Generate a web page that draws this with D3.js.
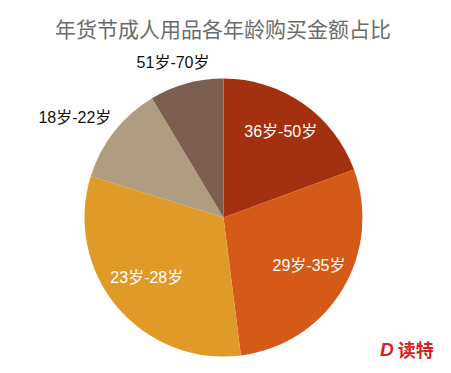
<!DOCTYPE html>
<html>
<head>
<meta charset="utf-8">
<script src="https://cdn.jsdelivr.net/npm/d3@7"></script>
<style>
  body { margin: 0; background: #fff; }
  svg { display: block; }
</style>
</head>
<body>
<svg></svg>
<script>
// data (percent of spend)
const ages = ['36岁-50岁', '29岁-35岁', '23岁-28岁', '18岁-22岁', '51岁-70岁']
const shares = [19.4, 28.6, 31.8, 11.6, 8.6]
const colors = ['#a3310f', '#d55a17', '#e09a28', '#b09c7e', '#7b5e50']
const title = '年货节成人用品各年龄购买金额占比'

let width = 451
let height = 373
let svg = d3.select('svg')
    .attr('width', width)
    .attr('height', height)

let cx = 223.5
let cy = 217.5
let radius = 139

let font = '"Liberation Sans", Arial, "Noto Sans CJK SC", sans-serif'

// title
svg.append('text')
    .attr('x', 223)
    .attr('y', 28)
    .attr('text-anchor', 'middle')
    .attr('dominant-baseline', 'central')
    .attr('fill', '#6b6b6b')
    .style('font-family', '"Noto Sans CJK SC", sans-serif')
    .style('font-size', '21px')
    .text(title)

let data = ages.map((a, i) => ({ age: a, value: shares[i], color: colors[i] }))

let pie = d3.pie()
    .value(d => d.value)
    .sort(null)

let arc = d3.arc()
    .innerRadius(0)
    .outerRadius(radius)

let g = svg.append('g')
    .attr('transform', 'translate(' + cx + ',' + cy + ')')

let arcs = pie(data)

g.selectAll('path')
    .data(arcs)
    .enter()
    .append('path')
    .attr('d', arc)
    .attr('fill', d => d.data.color)

// labels: big slices inside in white, small ones outside in black
g.selectAll('text.lbl')
    .data(arcs)
    .enter()
    .append('text')
    .attr('class', 'lbl')
    .attr('text-anchor', 'middle')
    .attr('dominant-baseline', 'central')
    .style('font-family', font)
    .style('font-size', '16px')
    .attr('fill', d => d.data.value > 15 ? '#fff' : '#111')
    .attr('x', d => {
        let a = (d.startAngle + d.endAngle) / 2
        let r = d.data.value > 15 ? radius * 0.72 : radius * 1.36
        return Math.sin(a) * r
    })
    .attr('y', d => {
        let a = (d.startAngle + d.endAngle) / 2
        let r = d.data.value > 15 ? radius * 0.72 : radius * 1.16
        return -Math.cos(a) * r - (d.data.value > 15 ? 4 : 0)
    })
    .text(d => d.data.age)

// watermark
let mark = svg.append('text')
    .attr('x', 380)
    .attr('y', 356)
    .attr('fill', '#d81e1e')
    .style('font-family', '"Noto Sans CJK SC", sans-serif')
mark.append('tspan')
    .style('font-size', '19px')
    .style('font-weight', 'bold')
    .style('font-style', 'italic')
    .style('font-family', '"Liberation Sans", Arial, sans-serif')
    .text('D')
mark.append('tspan')
    .attr('dx', 4)
    .attr('dy', 1)
    .style('font-size', '18px')
    .style('font-weight', 'bold')
    .text('读特')
</script>
</body>
</html>
